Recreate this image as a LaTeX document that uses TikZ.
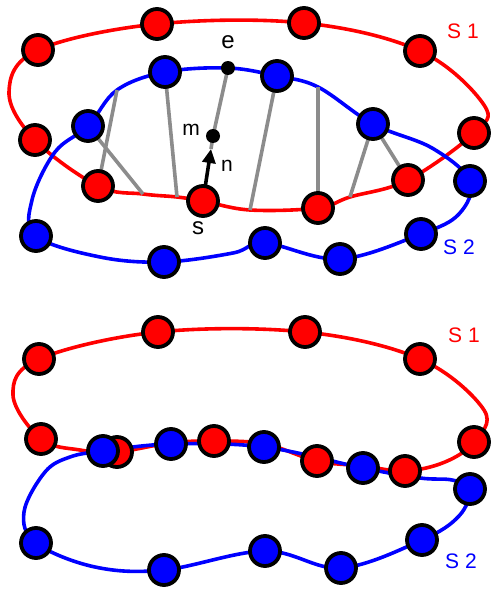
\documentclass[tikz,border=0pt]{standalone}
\usepackage{fontspec}
\setmainfont{Liberation Sans}
\usetikzlibrary{arrows.meta}
\definecolor{linegray}{RGB}{140,140,140}
\begin{document}
\begin{tikzpicture}[x=1pt,y=-1pt,
  rnode/.style={circle,draw=black,fill=red,line width=3.8pt,minimum size=30pt,inner sep=0pt},
  bnode/.style={circle,draw=black,fill=blue,line width=3.8pt,minimum size=30pt,inner sep=0pt},
  dotnode/.style={circle,fill=black,minimum size=14pt,inner sep=0pt},
  redcurve/.style={draw=red,line width=3.6pt},
  bluecurve/.style={draw=blue,line width=3.6pt},
  grayline/.style={draw=linegray,line width=3.6pt},
  biglbl/.style={font=\fontsize{24}{26}\selectfont,inner sep=0pt},
  smalllbl/.style={font=\fontsize{21}{24}\selectfont,inner sep=0pt},
  setlbl/.style={font=\fontsize{21}{24}\selectfont,inner sep=0pt},
]
\useasboundingbox (0,0) rectangle (491,589);
% ---------------- top panel ----------------
% red S1
\coordinate (r1) at (157,24);
\coordinate (r10) at (304,23);
\coordinate (r9) at (420,51);
\coordinate (ra) at (484,105);
\coordinate (r8) at (474,133);
\coordinate (r7) at (408,180);
\coordinate (rb) at (350,197);
\coordinate (r6) at (318,208);
\coordinate (rc) at (250,210);
\coordinate (r5) at (203,201);
\coordinate (rd) at (177,197);
\coordinate (re) at (143,194);
\coordinate (r4) at (98,186);
\coordinate (r3) at (35,140);
\coordinate (rf) at (9,92);
\coordinate (r2) at (38,50);
% blue S2
\coordinate (b1) at (165,72);
\coordinate (be) at (228,68);
\coordinate (b10) at (277,76);
\coordinate (ba) at (318,87);
\coordinate (b9) at (373,124);
\coordinate (bb) at (432,148);
\coordinate (b8) at (470,181);
\coordinate (bc) at (459,214);
\coordinate (b7) at (421,234);
\coordinate (b6) at (340,259);
\coordinate (b5) at (265,243);
\coordinate (bd) at (233,253);
\coordinate (b4) at (164,262);
\coordinate (bf) at (100,257);
\coordinate (b3) at (36,236);
\coordinate (bg) at (32,200);
\coordinate (bh) at (55,152);
\coordinate (b2) at (88,126);
\coordinate (bi) at (117,90);
\coordinate (bm) at (213,136);
\coordinate (tip) at (211,149);

\draw[redcurve] plot[smooth cycle,tension=0.6] coordinates {(r1) (r10) (r9) (ra) (r8) (r7) (rb) (r6) (rc) (r5) (rd) (re) (r4) (r3) (rf) (r2)};
\draw[bluecurve] plot[smooth cycle,tension=0.6] coordinates {(b1) (be) (b10) (ba) (b9) (bb) (b8) (bc) (b7) (b6) (b5) (bd) (b4) (bf) (b3) (bg) (bh) (b2) (bi)};

\draw[grayline] (bi) -- (r4);
\draw[grayline] (b2) -- (re);
\draw[grayline] (b1) -- (rd);
\draw[grayline] (b10) -- (rc);
\draw[grayline] (ba) -- (r6);
\draw[grayline] (b9) -- (rb);
\draw[grayline] (b9) -- (r7);
\draw[grayline] (tip) -- (bm) -- (be);
\draw[line width=3.6pt,-{Triangle[length=14pt,width=13pt]}] (r5) -- (tip);

\foreach \n in {1,...,10} {\node[rnode] (R\n) at (r\n) {};}
\foreach \n in {1,...,10} {\node[bnode] (B\n) at (b\n) {};}
\node[dotnode] (E) at (be) {};
\node[dotnode] (M) at (bm) {};

\node[biglbl] (le) at (228,42) {e};
\node[smalllbl] (lm) at (191,130) {m};
\node[smalllbl] (ln) at (227,166) {n};
\node[biglbl] (ls) at (198,228) {s};
\node[setlbl,text=red] (lS1) at (463,31) {S 1};
\node[setlbl,text=blue] (lS2) at (459,247) {S 2};

% ---------------- bottom panel ----------------
\coordinate (p1) at (158,332);
\coordinate (p10) at (305,332);
\coordinate (p9) at (420,359);
\coordinate (pa) at (484,410);
\coordinate (p8) at (474,442);
\coordinate (pb) at (445,462);
\coordinate (p7) at (405,471);
\coordinate (pc) at (363,466);
\coordinate (p6) at (317,461);
\coordinate (pd) at (265,444);
\coordinate (p5) at (214,441);
\coordinate (pe) at (170,443);
\coordinate (p4) at (117,452);
\coordinate (pg) at (80,450);
\coordinate (p3) at (41,439);
\coordinate (pf) at (13,395);
\coordinate (p2) at (39,359);

\coordinate (q1) at (103,451);
\coordinate (q2) at (171,444);
\coordinate (q3) at (264,447);
\coordinate (q4) at (363,468);
\coordinate (qa) at (420,478);
\coordinate (qb) at (452,480);
\coordinate (q5) at (470,489);
\coordinate (qc) at (459,516);
\coordinate (q6) at (422,540);
\coordinate (q7) at (341,568);
\coordinate (q8) at (265,551);
\coordinate (q9) at (164,570);
\coordinate (qd) at (95,567);
\coordinate (q10) at (36,543);
\coordinate (qe) at (24,512);
\coordinate (qf) at (45,472);
\coordinate (qg) at (70,457);

\draw[redcurve] plot[smooth cycle,tension=0.6] coordinates {(p1) (p10) (p9) (pa) (p8) (pb) (p7) (pc) (p6) (pd) (p5) (pe) (p4) (pg) (p3) (pf) (p2)};
\draw[bluecurve] plot[smooth cycle,tension=0.6] coordinates {(q1) (q2) (q3) (q4) (qa) (qb) (q5) (qc) (q6) (q7) (q8) (q9) (qd) (q10) (qe) (qf) (qg)};

\foreach \n in {1,...,10} {\node[rnode] (P\n) at (p\n) {};}
\foreach \n in {1,...,10} {\node[bnode] (Q\n) at (q\n) {};}

\node[setlbl,text=red] (lS1b) at (464,335) {S 1};
\node[setlbl,text=blue] (lS2b) at (461,561) {S 2};
\end{tikzpicture}
\end{document}
